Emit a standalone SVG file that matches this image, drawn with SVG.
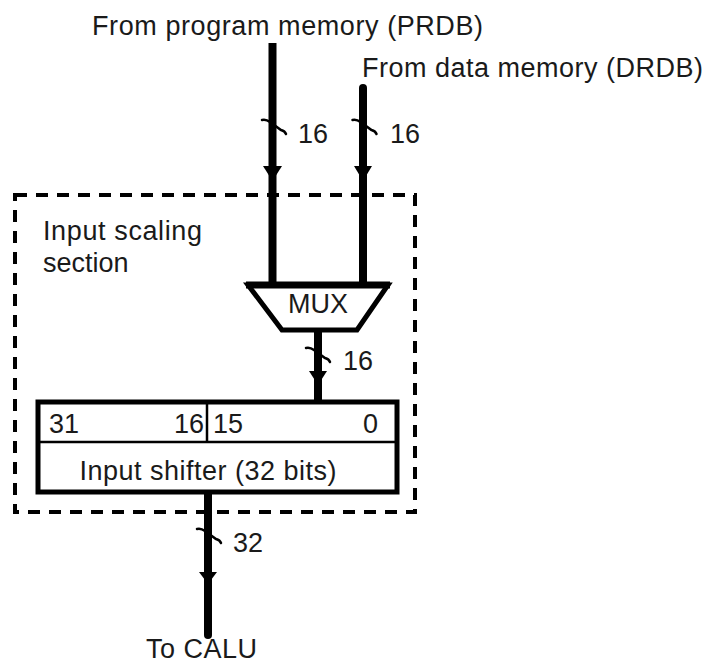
<svg xmlns="http://www.w3.org/2000/svg" width="708" height="665" viewBox="0 0 708 665">
<style>
text{font-family:"Liberation Sans",Arial,sans-serif;font-size:27px;fill:#1a1a1a}
.bus{stroke:#000;stroke-width:8;fill:none}
.slash{stroke:#000;stroke-width:2.5;fill:none;stroke-linecap:round}
.head{fill:#000}
.thin{stroke:#000;stroke-width:2.5}
</style>
<rect width="708" height="665" fill="#fff"/>
<g id="section">
<rect x="15" y="195" width="400" height="317" fill="none" stroke="#000" stroke-width="4" stroke-dasharray="12 9"/>
<text x="43" y="240" textLength="159">Input scaling</text>
<text x="43" y="272">section</text>
</g>
<g id="connectors">
<line class="bus" x1="272.5" y1="43" x2="272.5" y2="285"/>
<line class="bus" x1="363" y1="88" x2="363" y2="285" stroke-linecap="round"/>
<polygon class="head" points="263,166 282,166 272.5,181"/>
<polygon class="head" points="354,166 372,166 363,181"/>
<path class="slash" d="M262,120 q4,-1 8,2 l11,8 q4,1 5,4"/>
<path class="slash" d="M352.5,120 q4,-1 8,2 l11,8 q4,1 5,4"/>
<line class="bus" x1="318" y1="330" x2="318" y2="402"/>
<polygon class="head" points="309,371 327,371 318,385"/>
<path class="slash" d="M306,348 q4,-1 8,2 l11,8 q4,1 5,4"/>
<path class="bus" d="M208,492 V630 L208,635" stroke-linecap="round"/>
<polygon class="head" points="199,572 217,572 208,584"/>
<path class="slash" d="M197,529 q4,-1 8,2 l11,8 q4,1 5,4"/>
<text x="298" y="143">16</text>
<text x="390" y="143">16</text>
<text x="343" y="370">16</text>
<text x="233" y="552">32</text>
</g>
<g id="prdb">
<text x="92" y="35" textLength="391">From program memory (PRDB)</text>
</g>
<g id="drdb">
<text x="362" y="77" textLength="341">From data memory (DRDB)</text>
</g>
<g id="mux">
<polygon points="248,285 388,285 357,330 282,330" fill="#fff" stroke="#000" stroke-width="5" stroke-linejoin="miter"/>
<line x1="246" y1="285" x2="390" y2="285" stroke="#000" stroke-width="7"/>
<text x="318" y="313" text-anchor="middle">MUX</text>
</g>
<g id="shifter">
<rect x="38" y="402" width="359" height="90" fill="#fff" stroke="#000" stroke-width="5"/>
<line class="thin" x1="38" y1="442" x2="397" y2="442"/>
<line class="thin" x1="207" y1="402" x2="207" y2="442"/>
<text x="49" y="433">31</text>
<text x="204" y="433" text-anchor="end">16</text>
<text x="213" y="433">15</text>
<text x="378" y="433" text-anchor="end">0</text>
<text x="208" y="480" text-anchor="middle" textLength="257">Input shifter (32 bits)</text>
</g>
<g id="calu">
<text x="146" y="658" textLength="111">To CALU</text>
</g>
</svg>
